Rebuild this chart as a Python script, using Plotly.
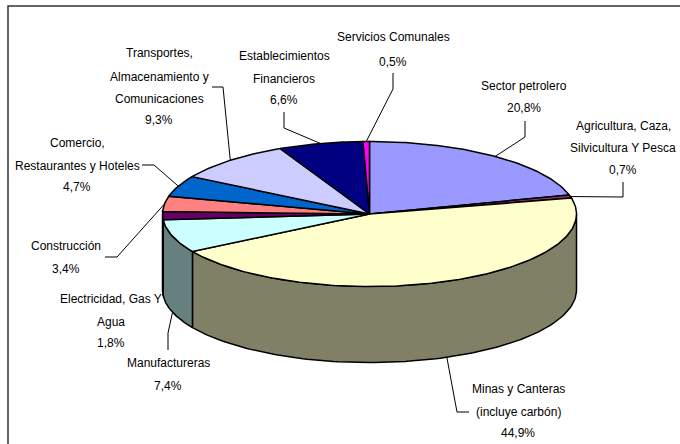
import numpy as np
import plotly.graph_objects as go

# ---- data ----
categories = ["Sector petrolero", "Agricultura, Caza, Silvicultura Y Pesca",
              "Minas y Canteras (incluye carbón)", "Manufactureras",
              "Electricidad, Gas Y Agua", "Construcción",
              "Comercio, Restaurantes y Hoteles",
              "Transportes, Almacenamiento y Comunicaciones",
              "Establecimientos Financieros", "Servicios Comunales"]
values = [20.8, 0.7, 44.9, 7.4, 1.8, 3.4, 4.7, 9.3, 6.6, 0.5]
value_labels = ["20,8%", "0,7%", "44,9%", "7,4%", "1,8%", "3,4%", "4,7%", "9,3%", "6,6%", "0,5%"]
label_lines = [["Sector petrolero"], ["Agricultura, Caza,", "Silvicultura Y Pesca"],
               ["Minas y Canteras", "(incluye carbón)"], ["Manufactureras"],
               ["Electricidad, Gas Y", "Agua"], ["Construcción"],
               ["Comercio,", "Restaurantes y Hoteles"],
               ["Transportes,", "Almacenamiento y", "Comunicaciones"],
               ["Establecimientos", "Financieros"], ["Servicios Comunales"]]

# ---- styling ----
top_colors = ["#9999FF", "#993366", "#FFFFCC", "#CCFFFF", "#660066",
              "#FF8080", "#0066CC", "#CCCCFF", "#000080", "#FF00FF"]
side_colors = ["#4C4C80", "#4C1A33", "#808066", "#668080", "#330033",
               "#804040", "#003366", "#666680", "#000040", "#800080"]
CX, CY, RX, RY, DEPTH = 369.5, 214.0, 207.0, 72.5, 76.0
FONT = "Liberation Sans"
FS = 12
# line tops for each label: (centre x, y of each line)
label_pos = [(524, [86, 108]), (623, [126, 148, 170]), (518, [389, 412, 433]),
             (168, [363, 386]), (111, [299, 322, 343]), (66, [246, 269]),
             (77, [143, 166, 187]), (159, [53, 77, 99, 120]),
             (284, [56, 79, 100]), (393, [37, 62])]
# leader elbows (pixels), ending on the slice's mid-angle rim point; None = no leader
leaders = [[(525, 121), (525, 137)], [(623, 182), (623, 197)], [(469, 412), (457, 412)],
           [(168, 350), (168, 333)], None, [(105, 257), (117, 257)],
           [(142, 165), (154, 165)], [(212, 87), (223, 87)],
           [(284, 112), (284, 128)], [(393, 73), (393, 89)]]

vals = np.array(values, dtype=float)
edges = np.concatenate([[0], np.cumsum(vals) / vals.sum() * 2 * np.pi])


def rim(theta, dy=0.0):
    return CX + RX * np.sin(theta), CY - RY * np.cos(theta) + dy


fig = go.Figure()

# side walls (only the front half, theta in [pi/2, 3pi/2], is visible)
for i in range(len(vals)):
    a = max(edges[i], np.pi / 2)
    b = min(edges[i + 1], 3 * np.pi / 2)
    if b <= a:
        continue
    t = np.linspace(a, b, 120)
    x1, y1 = rim(t)
    x2, y2 = rim(t[::-1], DEPTH)
    fig.add_trace(go.Scatter(x=np.r_[x1, x2, x1[0]], y=np.r_[y1, y2, y1[0]], mode="lines",
                             fill="toself", fillcolor=side_colors[i],
                             line=dict(color="black", width=1.5), hoverinfo="skip"))

# top face
for i in range(len(vals)):
    t = np.linspace(edges[i], edges[i + 1], max(4, int(400 * vals[i] / 100)))
    x, y = rim(t)
    fig.add_trace(go.Scatter(x=np.r_[CX, x, CX], y=np.r_[CY, y, CY], mode="lines",
                             fill="toself", fillcolor=top_colors[i],
                             line=dict(color="black", width=1.5),
                             name=categories[i], text=[value_labels[i]] * (len(x) + 2),
                             hoverinfo="name+text"))

# leader lines
for i, pts in enumerate(leaders):
    if pts is None:
        continue
    mid = (edges[i] + edges[i + 1]) / 2
    front = np.pi / 2 < mid < 3 * np.pi / 2 and np.cos(mid) < -0.25
    ex, ey = rim(mid, DEPTH if front else 0.0)
    xs = [p[0] for p in pts] + [ex]
    ys = [p[1] for p in pts] + [ey]
    fig.add_trace(go.Scatter(x=xs, y=ys, mode="lines", line=dict(color="black", width=1),
                             hoverinfo="skip"))

# labels: every line its own annotation, because the source spacing is wider than plotly's
annotations = []
for i, (cx, ys) in enumerate(label_pos):
    for line, y in zip(label_lines[i] + [value_labels[i]], ys):
        annotations.append(dict(x=cx, y=y, text=line, showarrow=False, xanchor="center",
                                yanchor="middle", font=dict(family=FONT, size=FS, color="black")))

fig.update_layout(
    width=680, height=444, autosize=False, showlegend=False,
    margin=dict(l=0, r=0, t=0, b=0),
    paper_bgcolor="white", plot_bgcolor="white",
    xaxis=dict(range=[0, 680], visible=False, fixedrange=True),
    yaxis=dict(range=[444, 0], visible=False, fixedrange=True),
    annotations=annotations,
    # the frame runs off the right and bottom of the picture, as in the source
    shapes=[dict(type="rect", x0=8, y0=6, x1=720, y1=480,
                 line=dict(color="#333333", width=1.5))],
)
fig.write_html("out.html", config=dict(displayModeBar=False),
               post_script="document.body.style.margin='0';document.body.style.overflow='hidden';")
